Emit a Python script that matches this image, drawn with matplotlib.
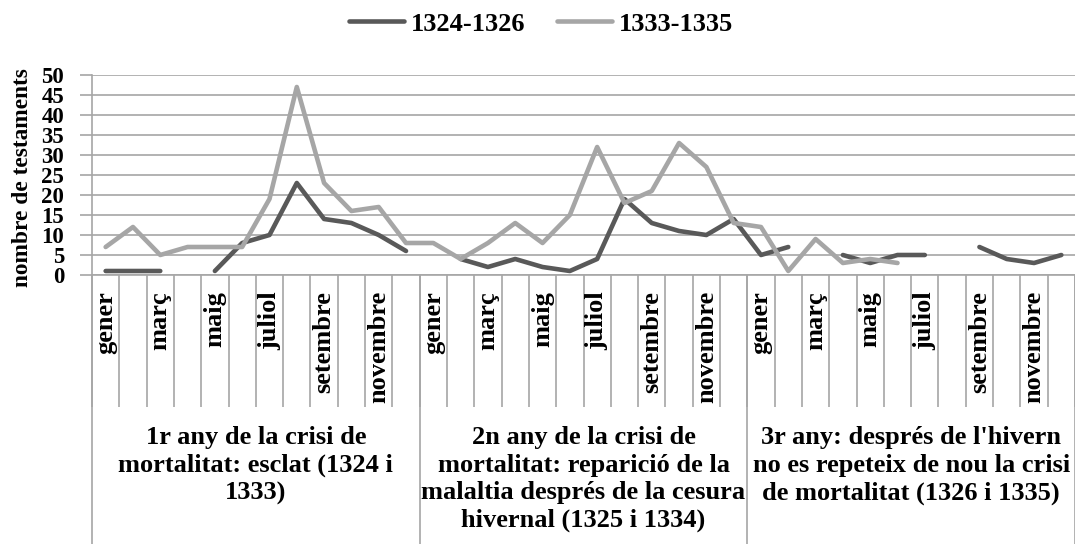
import numpy as np
import matplotlib
matplotlib.use('Agg')
import matplotlib.pyplot as plt
from matplotlib.transforms import blended_transform_factory
from matplotlib.lines import Line2D

nan = np.nan

mesos = ['gener', 'febrer', 'març', 'abril', 'maig', 'juny', 'juliol',
         'agost', 'setembre', 'octubre', 'novembre', 'desembre']
anys = ['1r any de la crisi de\nmortalitat: esclat (1324 i\n1333)',
        '2n any de la crisi de\nmortalitat: reparició de la\nmalaltia després de la cesura\nhivernal (1325 i 1334)',
        "3r any: després de l'hivern\nno es repeteix de nou la crisi\nde mortalitat (1326 i 1335)"]

series_noms = ['1324-1326', '1333-1335']
# nombre de testaments per mes (3 anys x 12 mesos), nan = sense dada
s_1324 = [1, 1, 1, nan, 1, 8, 10, 23, 14, 13, 10, 6,
          nan, 4, 2, 4, 2, 1, 4, 19, 13, 11, 10, 14,
          5, 7, nan, 5, 3, 5, 5, nan, 7, 4, 3, 5]
s_1333 = [7, 12, 5, 7, 7, 7, 19, 47, 23, 16, 17, 8,
          8, 4, 8, 13, 8, 15, 32, 18, 21, 33, 27, 13,
          12, 1, 9, 3, 4, 3, nan, nan, nan, nan, nan, nan]

colors = ['#595959', '#A6A6A6']
gris = '#A6A6A6'

plt.rcParams['font.family'] = ['Liberation Serif', 'DejaVu Serif']
plt.rcParams['font.weight'] = 'bold'

W, H = 1075, 544
fig = plt.figure(figsize=(W / 100, H / 100), dpi=100)
ax = fig.add_axes([92 / W, (H - 275) / H, 983 / W, 200 / H])

n = len(s_1324)
x = np.arange(n) + 0.5
for vals, c in zip([s_1324, s_1333], colors):
    ax.plot(x, np.array(vals, dtype=float), color=c, lw=3.3, solid_capstyle='round')

ax.set_xlim(0, n)
ax.set_ylim(0, 50)
ax.set_yticks(range(0, 51, 5))
ax.set_xticks([])
ax.yaxis.grid(True, color=gris, lw=1.2)
ax.set_axisbelow(True)
for sp in ['top', 'right']:
    ax.spines[sp].set_visible(False)
for sp in ['left', 'bottom']:
    ax.spines[sp].set_color(gris)
    ax.spines[sp].set_linewidth(1.2)
ax.tick_params(axis='y', length=9, width=1.2, color=gris, labelsize=16.5, pad=11)

fig.text(23 / W, (H - 178) / H, 'nombre de testaments', rotation=90,
         ha='center', va='center', fontsize=16.8)

# eix de categories en dos nivells
trans = blended_transform_factory(ax.transData, fig.transFigure)
y_axe = (H - 275) / H
ax.vlines(np.arange(0, n + 1), (H - 407) / H, y_axe, transform=trans,
          color=gris, lw=1.2, clip_on=False)
ax.vlines(np.arange(0, n + 1, 12), 0, y_axe, transform=trans,
          color=gris, lw=1.2, clip_on=False)

for a in range(3):
    for m in range(0, 12, 2):
        i = a * 12 + m
        ax.text(i + 0.5, (H - 291) / H, mesos[m], transform=trans, rotation=90,
                ha='center', va='top', fontsize=19)
    ax.text(a * 12 + 6, (H - 426) / H, anys[a], transform=trans, ha='center',
            va='top', multialignment='center', fontsize=19, linespacing=1.26)

handles = [Line2D([], [], color=c, lw=3.3, solid_capstyle='round') for c in colors]
fig.legend(handles, series_noms, loc='center', bbox_to_anchor=(0.503, 0.956),
           ncol=2, frameon=False, fontsize=19, handlelength=2.1,
           handletextpad=0.25, columnspacing=1.2)

fig.savefig('out.png', dpi=100)
